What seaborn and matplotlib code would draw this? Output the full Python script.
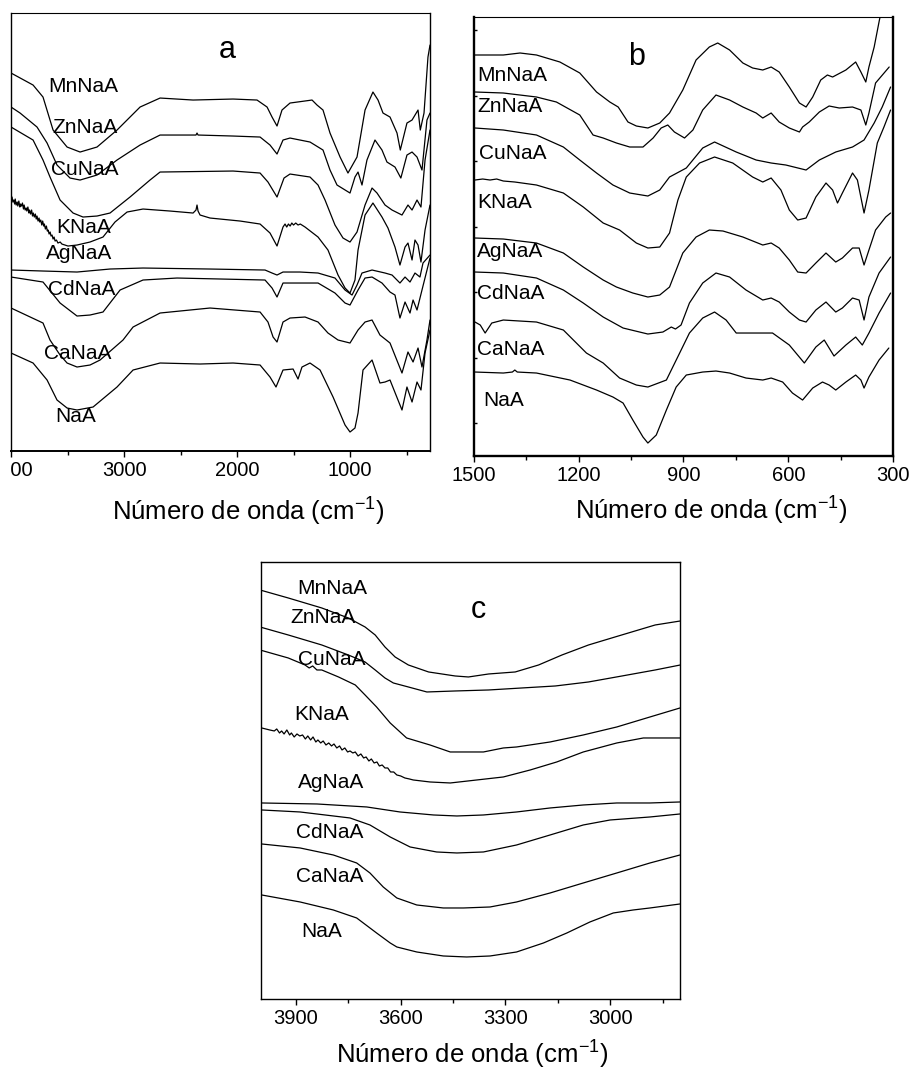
import matplotlib
matplotlib.use("Agg")
import matplotlib.pyplot as plt
import pandas as pd
import seaborn as sns
from matplotlib.patches import Rectangle

sns.set_theme(style="white")
plt.rcParams["font.family"] = ["Liberation Sans", "DejaVu Sans"]
plt.rcParams["mathtext.fontset"] = "custom"
plt.rcParams["mathtext.rm"] = "Liberation Sans"
plt.rcParams["text.color"] = "black"
plt.rcParams["axes.labelcolor"] = "black"
plt.rcParams["xtick.color"] = "black"
plt.rcParams["ytick.color"] = "black"

samples = ["MnNaA", "ZnNaA", "CuNaA", "KNaA", "AgNaA", "CdNaA", "CaNaA", "NaA"]

# ---------------- panel a : (wavenumber cm-1, transmittance a.u.) ----------------
a_MnNaA = [(4000, 378), (3805, 366), (3717, 354), (3628, 321), (3504, 304), (3389, 299), (3239, 304),
           (3062, 321), (2858, 344), (2681, 353), (2389, 351), (2035, 352), (1823, 351), (1734, 344),
           (1690, 334), (1646, 325), (1602, 341), (1531, 348), (1336, 351), (1292, 346), (1239, 341),
           (1177, 318), (1088, 294), (1018, 278), (938, 294), (867, 341), (797, 359), (752, 351),
           (708, 338), (646, 334), (584, 318), (555, 301), (496, 328), (451, 331), (398, 341),
           (378, 321), (345, 338), (310, 394), (292, 406)]
a_ZnNaA = [(4000, 344), (3920, 338), (3770, 324), (3681, 308), (3593, 286), (3478, 273), (3389, 271),
           (3239, 276), (3062, 291), (2858, 306), (2681, 316), (2363, 316), (2354, 318), (2345, 316),
           (2035, 315), (1796, 314), (1708, 306), (1646, 297), (1593, 311), (1531, 313), (1354, 309),
           (1239, 301), (1177, 281), (1115, 266), (1000, 258), (956, 274), (929, 279), (894, 266),
           (850, 291), (779, 311), (717, 301), (673, 289), (602, 284), (550, 273), (496, 296),
           (451, 299), (407, 294), (363, 281), (319, 331), (292, 338)]
a_CuNaA = [(4000, 324), (3805, 311), (3717, 291), (3655, 274), (3566, 251), (3451, 238), (3363, 234),
           (3239, 235), (3124, 238), (2947, 254), (2770, 271), (2681, 279), (2035, 280), (1796, 278),
           (1726, 269), (1646, 254), (1584, 273), (1531, 277), (1354, 274), (1283, 266), (1221, 251),
           (1133, 226), (1062, 213), (1000, 209), (938, 219), (867, 246), (805, 263), (761, 258),
           (690, 246), (628, 241), (540, 236), (487, 246), (451, 241), (407, 251), (372, 244),
           (336, 291), (292, 321)]
a_KNaA = [(4000, 251), (3991, 254), (3984, 249), (3976, 251), (3968, 247), (3963, 252), (3955, 246),
          (3946, 249), (3940, 245), (3931, 250), (3922, 244), (3916, 247), (3907, 245), (3899, 248),
          (3890, 242), (3884, 246), (3875, 241), (3866, 243), (3860, 240), (3851, 244), (3842, 238),
          (3836, 241), (3827, 237), (3818, 241), (3810, 235), (3803, 238), (3794, 234), (3785, 237),
          (3777, 232), (3770, 235), (3761, 230), (3752, 233), (3746, 229), (3737, 231), (3728, 226),
          (3720, 230), (3711, 225), (3705, 227), (3696, 222), (3687, 225), (3679, 220), (3672, 221),
          (3663, 217), (3654, 219), (3646, 215), (3637, 216), (3628, 212), (3619, 214), (3610, 210),
          (3598, 211), (3585, 208), (3565, 209), (3550, 207), (3496, 205), (3416, 206), (3301, 209),
          (3186, 214), (3080, 229), (2973, 239), (2832, 242), (2593, 240), (2389, 238), (2363, 241),
          (2354, 246), (2345, 240), (2327, 236), (2239, 233), (1973, 230), (1796, 227), (1708, 218),
          (1646, 205), (1593, 224), (1575, 227), (1560, 224), (1545, 227), (1530, 225), (1515, 228),
          (1500, 226), (1480, 228), (1460, 226), (1440, 227), (1398, 224), (1283, 214), (1195, 201),
          (1106, 176), (1044, 163), (1000, 158), (956, 171), (929, 201), (867, 236), (797, 248),
          (717, 234), (664, 223), (602, 204), (558, 186), (513, 204), (487, 208), (451, 191),
          (425, 211), (398, 206), (372, 189), (336, 221), (292, 246)]
a_AgNaA = [(4000, 181), (3717, 180), (3416, 179), (3124, 182), (2832, 183), (2239, 182), (1752, 181),
           (1690, 178), (1646, 176), (1593, 179), (1442, 179), (1283, 178), (1133, 173), (1044, 161),
           (982, 156), (938, 166), (894, 178), (805, 181), (690, 178), (628, 176), (558, 168),
           (513, 174), (469, 169), (425, 178), (381, 174), (354, 188), (292, 196)]
a_CdNaA = [(4000, 174), (3717, 169), (3566, 148), (3416, 135), (3301, 136), (3186, 139), (3035, 161),
           (2832, 171), (2531, 173), (1752, 171), (1690, 163), (1646, 154), (1593, 168), (1442, 168),
           (1283, 168), (1133, 158), (1044, 148), (1000, 146), (929, 161), (867, 173), (805, 174),
           (717, 168), (646, 159), (602, 156), (558, 133), (513, 149), (469, 138), (442, 151),
           (407, 141), (363, 161), (292, 193)]
a_CaNaA = [(4000, 143), (3717, 128), (3655, 111), (3566, 96), (3504, 88), (3416, 84), (3301, 86),
           (3212, 91), (3009, 111), (2920, 124), (2681, 138), (2239, 143), (1796, 139), (1726, 129),
           (1681, 114), (1646, 109), (1593, 129), (1531, 133), (1398, 134), (1283, 129), (1195, 118),
           (1106, 111), (1000, 108), (929, 121), (867, 129), (805, 131), (735, 116), (646, 108),
           (540, 78), (487, 99), (442, 89), (398, 103), (363, 84), (319, 111), (292, 131)]
a_NaA = [(4000, 98), (3805, 88), (3681, 71), (3593, 51), (3504, 43), (3416, 41), (3274, 44),
         (3062, 64), (2920, 81), (2681, 88), (2327, 87), (2035, 88), (1796, 86), (1708, 74),
         (1655, 64), (1593, 81), (1504, 82), (1460, 72), (1425, 84), (1354, 88), (1265, 81),
         (1150, 54), (1044, 26), (1000, 19), (956, 23), (929, 38), (885, 81), (805, 91), (735, 68),
         (690, 69), (646, 71), (593, 56), (540, 41), (496, 64), (451, 49), (407, 69), (372, 61),
         (336, 98), (292, 121)]

# ---------------- panel b ----------------
b_MnNaA = [(1497, 401), (1416, 401), (1368, 403), (1321, 401), (1254, 394), (1197, 383), (1149, 364),
           (1111, 354), (1087, 349), (1059, 334), (1035, 330), (1002, 328), (968, 333), (940, 343),
           (902, 366), (864, 396), (826, 409), (802, 413), (768, 406), (730, 393), (702, 388),
           (673, 386), (649, 389), (626, 384), (597, 369), (568, 353), (549, 349), (530, 359),
           (507, 376), (488, 381), (473, 379), (435, 386), (407, 394), (392, 384), (378, 374),
           (369, 389), (354, 409), (339, 436), (330, 450)]
b_ZnNaA = [(1497, 364), (1416, 363), (1321, 359), (1264, 354), (1197, 341), (1159, 321), (1130, 318),
           (1092, 313), (1054, 309), (1016, 309), (987, 318), (964, 328), (945, 331), (926, 324),
           (897, 318), (873, 326), (845, 346), (807, 361), (768, 356), (730, 349), (692, 343),
           (673, 338), (649, 343), (626, 334), (597, 328), (568, 324), (559, 329), (540, 334),
           (511, 344), (483, 350), (454, 348), (416, 349), (392, 346), (378, 331), (369, 343),
           (350, 373), (311, 389)]
b_CuNaA = [(1497, 328), (1416, 326), (1321, 321), (1244, 309), (1197, 296), (1149, 283), (1102, 271),
           (1054, 263), (1002, 260), (968, 266), (940, 279), (892, 288), (845, 308), (811, 314),
           (749, 304), (692, 296), (649, 293), (607, 291), (549, 286), (511, 296), (464, 304),
           (416, 309), (383, 316), (354, 333), (331, 349), (307, 369)]
b_KNaA = [(1497, 276), (1475, 277), (1454, 276), (1435, 277), (1416, 275), (1383, 274), (1321, 271),
          (1244, 263), (1187, 249), (1130, 233), (1083, 226), (1035, 213), (1002, 208), (968, 209),
          (940, 223), (916, 256), (892, 279), (854, 293), (811, 299), (759, 293), (702, 279),
          (673, 274), (649, 278), (621, 266), (597, 246), (573, 236), (549, 238), (521, 259),
          (492, 273), (473, 266), (459, 253), (445, 263), (416, 283), (402, 276), (383, 243),
          (369, 266), (345, 313), (326, 329), (307, 346)]
b_AgNaA = [(1497, 218), (1416, 217), (1321, 213), (1244, 203), (1187, 189), (1130, 176), (1092, 169),
           (1045, 163), (1002, 159), (968, 161), (940, 169), (902, 203), (864, 219), (826, 226),
           (787, 225), (730, 219), (673, 211), (649, 213), (626, 208), (597, 196), (573, 184),
           (549, 183), (521, 193), (492, 203), (464, 194), (445, 198), (416, 208), (397, 208),
           (383, 191), (369, 206), (350, 226), (321, 239), (307, 243)]
b_CdNaA = [(1497, 184), (1416, 183), (1321, 178), (1244, 166), (1187, 153), (1130, 139), (1073, 128),
           (1002, 122), (959, 124), (935, 129), (923, 127), (907, 131), (883, 153), (845, 173),
           (807, 183), (768, 179), (721, 166), (673, 156), (649, 158), (626, 154), (597, 144),
           (568, 136), (549, 134), (521, 146), (492, 154), (464, 144), (445, 148), (416, 158),
           (397, 156), (383, 136), (369, 159), (340, 183), (307, 199)]
b_CaNaA = [(1497, 134), (1482, 131), (1468, 123), (1449, 133), (1416, 136), (1321, 134), (1244, 126),
           (1178, 103), (1130, 93), (1083, 78), (1035, 71), (1002, 69), (949, 76), (911, 103),
           (883, 123), (845, 138), (811, 144), (778, 136), (749, 123), (692, 123), (645, 123),
           (597, 111), (554, 93), (521, 109), (497, 116), (469, 100), (435, 111), (407, 119),
           (388, 111), (369, 123), (340, 143), (307, 163)]
b_NaA = [(1497, 84), (1416, 83), (1390, 84), (1383, 86), (1376, 84), (1321, 83), (1225, 76),
         (1149, 66), (1102, 59), (1073, 53), (1045, 36), (1016, 19), (1002, 13), (978, 21), (949, 46),
         (921, 69), (892, 81), (845, 84), (807, 85), (768, 83), (721, 78), (673, 76), (649, 78),
         (616, 74), (588, 63), (559, 56), (530, 68), (502, 74), (483, 71), (464, 66), (435, 74),
         (407, 81), (392, 76), (383, 68), (369, 79), (340, 96), (312, 108)]

# ---------------- panel c ----------------
c_MnNaA = [(4003, 409), (3922, 401), (3826, 391), (3750, 381), (3702, 372), (3673, 364), (3645, 352),
           (3616, 342), (3578, 334), (3520, 327), (3444, 323), (3406, 322), (3348, 325), (3272, 327),
           (3205, 334), (3138, 344), (3062, 354), (2986, 362), (2919, 369), (2871, 374), (2799, 378)]
c_ZnNaA = [(4003, 372), (3922, 364), (3826, 354), (3750, 344), (3702, 337), (3673, 329), (3645, 321),
           (3621, 316), (3578, 312), (3525, 307), (3444, 308), (3348, 309), (3253, 311), (3157, 313),
           (3062, 317), (2966, 323), (2871, 329), (2799, 334)]
c_CuNaA = [(4003, 349), (3922, 341), (3874, 334), (3862, 331), (3852, 333), (3840, 329), (3826, 329),
           (3778, 322), (3730, 314), (3702, 304), (3669, 292), (3630, 276), (3583, 261), (3516, 254),
           (3458, 247), (3363, 247), (3306, 251), (3268, 252), (3172, 257), (3077, 264), (2981, 272),
           (2886, 282), (2800, 291)]
c_KNaA = [(3998, 271), (3975, 269), (3962, 268), (3955, 270), (3947, 266), (3941, 268), (3934, 265),
          (3926, 269), (3918, 264), (3913, 266), (3905, 262), (3897, 265), (3889, 263), (3881, 264),
          (3873, 260), (3866, 263), (3858, 259), (3851, 262), (3843, 257), (3837, 259), (3829, 256),
          (3822, 258), (3814, 254), (3806, 256), (3798, 253), (3791, 255), (3783, 251), (3775, 253),
          (3768, 249), (3760, 251), (3752, 247), (3745, 248), (3737, 246), (3730, 247), (3722, 243),
          (3714, 245), (3706, 241), (3699, 242), (3691, 238), (3684, 240), (3676, 236), (3668, 237),
          (3661, 233), (3653, 234), (3645, 231), (3637, 231), (3629, 227), (3620, 227), (3611, 224),
          (3600, 223), (3588, 221), (3575, 220), (3564, 219), (3516, 217), (3458, 216), (3382, 219),
          (3306, 222), (3229, 229), (3153, 237), (3077, 247), (2981, 256), (2905, 261), (2800, 261)]
c_AgNaA = [(3998, 196), (3840, 195), (3697, 192), (3602, 187), (3506, 184), (3439, 183), (3363, 184),
           (3268, 187), (3172, 191), (3077, 194), (2981, 196), (2886, 196), (2800, 197)]
c_CdNaA = [(3998, 189), (3888, 187), (3745, 181), (3688, 174), (3630, 162), (3573, 152), (3497, 147),
           (3439, 146), (3363, 147), (3268, 154), (3172, 164), (3077, 174), (3000, 179), (2886, 182),
           (2800, 185)]
c_CaNaA = [(3998, 155), (3888, 151), (3793, 144), (3726, 136), (3688, 126), (3650, 112), (3611, 101),
           (3554, 94), (3478, 91), (3420, 91), (3344, 92), (3268, 97), (3172, 106), (3077, 116),
           (2981, 126), (2886, 136), (2800, 144)]
c_NaA = [(3998, 104), (3888, 97), (3793, 89), (3726, 81), (3669, 66), (3630, 56), (3611, 52),
         (3554, 47), (3478, 43), (3411, 42), (3344, 43), (3268, 47), (3191, 56), (3124, 66),
         (3058, 77), (2991, 86), (2934, 89), (2886, 91), (2800, 95)]

# label anchor positions (wavenumber, transmittance)
a_label_pos = [(3363, 365), (3345, 324), (3345, 282), (3354, 224), (3398, 198), (3372, 162), (3407, 98), (3425, 35)]
b_label_pos = [(1491, 381), (1491, 350), (1486, 303), (1491, 254), (1491, 205), (1491, 163), (1491, 107), (1474, 56)]
c_label_pos = [(3797, 410), (3822, 381), (3797, 339), (3825, 284), (3799, 216), (3802, 166), (3802, 122), (3825, 67)]

panel_a = [a_MnNaA, a_ZnNaA, a_CuNaA, a_KNaA, a_AgNaA, a_CdNaA, a_CaNaA, a_NaA]
panel_b = [b_MnNaA, b_ZnNaA, b_CuNaA, b_KNaA, b_AgNaA, b_CdNaA, b_CaNaA, b_NaA]
panel_c = [c_MnNaA, c_ZnNaA, c_CuNaA, c_KNaA, c_AgNaA, c_CdNaA, c_CaNaA, c_NaA]


def to_frame(series):
    rows = []
    for name, pts in zip(samples, series):
        for w, t in pts:
            rows.append({"sample": name, "wn": w, "T": t})
    return pd.DataFrame(rows)


fig = plt.figure(figsize=(9.12, 10.69), dpi=100)
fig.patch.set_facecolor("white")

axa = fig.add_axes([0.0121, 0.5781, 0.4594, 0.4097])
axb = fig.add_axes([0.5197, 0.5734, 0.4595, 0.4107])
axc = fig.add_axes([0.2862, 0.0655, 0.4594, 0.4088])

xlabel = "Número de onda (cm$^{\\mathregular{-1}}$)"

configs = [
    (axa, panel_a, a_label_pos, (4000, 292), (0, 438), [4000, 3000, 2000, 1000], [3500, 2500, 1500, 500],
     "a", (2088, 401), (0.566, -0.135)),
    (axb, panel_b, b_label_pos, (1500, 300), (0, 439), [1500, 1200, 900, 600, 300], [1350, 1050, 750, 450],
     "b", (1034, 399), (0.566, -0.121)),
    (axc, panel_c, c_label_pos, (4000, 2800), (0, 437), [3900, 3600, 3300, 3000], [3750, 3450, 3150, 2850],
     "c", (3378, 389), (0.504, -0.124)),
]

for ax, series, lpos, xl, yl, major, minor, tag, tagpos, xlc in configs:
    df = to_frame(series)
    sns.lineplot(data=df, x="wn", y="T", units="sample", estimator=None, sort=False,
                 color="black", linewidth=0.9, ax=ax, legend=False, errorbar=None)
    ax.set_xlim(*xl)
    ax.set_ylim(*yl)
    ax.set_facecolor("white")
    ax.set_xticks(major)
    ax.set_xticks(minor, minor=True)
    ax.set_xticklabels([str(v) for v in major])
    ax.tick_params(axis="x", which="major", direction="out", length=4.3, width=1.0,
                   labelsize=14.5, pad=3, colors="black", bottom=True)
    ax.tick_params(axis="x", which="minor", direction="out", length=2.6, width=1.0, bottom=True,
                   colors="black")
    ax.set_ylabel("")
    ax.set_xlabel(xlabel, fontsize=18.5, va="center", color="black")
    ax.xaxis.set_label_coords(*xlc)
    for s in ax.spines.values():
        s.set_visible(True)
        s.set_color("black")
        s.set_linewidth(1.0)
    ax.text(tagpos[0], tagpos[1], tag, fontsize=22, ha="center", va="center", color="black")
    for name, (x, y) in zip(samples, lpos):
        ha = "left" if ax is axb else "center"
        ax.text(x, y, name, fontsize=15, ha=ha, va="center", color="black")

axa.set_yticks([])
axc.set_yticks([])
axa.spines["bottom"].set_linewidth(1.4)
axa.spines["top"].set_linewidth(0.8)
axb.set_yticks([33, 98.5, 164, 229.5, 295, 360.5, 426])
axb.tick_params(axis="y", which="major", direction="in", length=2.5, width=1.0, labelleft=False, left=True)
for side in ["left", "right", "bottom"]:
    axb.spines[side].set_linewidth(1.7)
axb.spines["top"].set_linewidth(0.8)

# the reference is cropped at the left edge, hiding the leading digits of "4000"
fig.add_artist(Rectangle((0, 0.5416), 11.5 / 912, 0.030, transform=fig.transFigure,
                         facecolor="white", edgecolor="none", zorder=5))

fig.savefig("out.png", dpi=100, facecolor="white")
